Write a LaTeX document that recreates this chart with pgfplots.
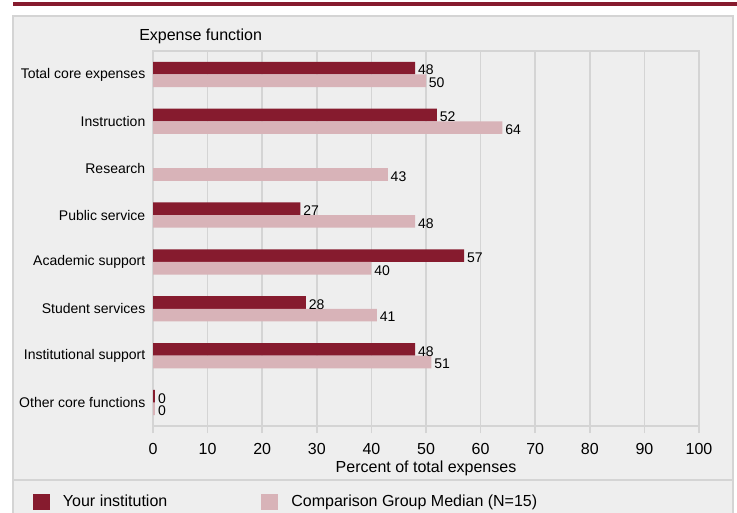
\documentclass[border=0pt]{standalone}
\usepackage{pgfplots}
\pgfplotsset{compat=1.18}
\usepackage{fontspec}
\setmainfont{Liberation Sans}
\definecolor{myred}{HTML}{861B2E}
\definecolor{mypink}{HTML}{D8B3B8}
\definecolor{panel}{HTML}{EEEEEE}
\definecolor{gridc}{HTML}{D4D4D4}
\begin{document}
\begin{tikzpicture}
\path[use as bounding box, fill=white] (0,0) rectangle (552.75pt,384pt);
\begin{scope}[x=0.75pt,y=-0.75pt,yshift=384pt]
\fill[panel] (13,16) rectangle (733,516);
\draw[gridc, line width=1.5pt] (13,516) -- (13,16) -- (733,16) -- (733,516);
\draw[gridc, line width=1.5pt] (13,480) -- (733,480);
\fill[myred] (13,2) rectangle (737,6);
\node[anchor=base west, font=\fontsize{12}{14}\selectfont, inner sep=0pt] at (139,40.5) {Expense function};
\end{scope}
\begin{axis}[
  at={(114.75pt,64.5pt)}, anchor=south west,
  scale only axis, width=409.5pt, height=281.25pt,
  xbar, bar width=9.5pt,
  xmin=0, xmax=100, ymin=-0.5, ymax=7.5,
  xtick={0,10,...,100},
  ytick={0,...,7},
  yticklabels={Other core functions, Institutional support, Student services, Academic support, Public service, Research, Instruction, Total core expenses},
  xmajorgrids, major grid style={draw=gridc, line width=1.1pt},
  axis line style={draw=none},
  axis background/.style={draw=gridc, line width=1.1pt},
  xtick pos=bottom, tick align=outside, major tick length=5.25pt,
  xtick style={draw=gridc, line width=1.1pt},
  ytick style={draw=none},
  /pgf/number format/assume math mode=true,
  tick label style={font=\fontsize{12}{14}\selectfont},
  xticklabel style={yshift=-4.5pt},
  yticklabel style={font=\fontsize{10.5}{12}\selectfont, xshift=3pt},
  xlabel={Percent of total expenses},
  xlabel style={font=\fontsize{12}{14}\selectfont, at={(axis description cs:0.5,-0.124)}, anchor=base},
  nodes near coords,
  nodes near coords style={font=\fontsize{10.5}{12}\selectfont, text=black, inner sep=2pt, yshift=-1.5pt},
  legend columns=2,
  legend cell align=left,
  legend style={at={(-0.2198,-0.2026)}, anchor=west, draw=none, fill=none, inner sep=0pt, outer sep=0pt,
    font=\fontsize{12}{14}\selectfont, nodes={inner sep=0pt},
    /tikz/every odd column/.append style={column sep=9.75pt},
    /tikz/every even column/.append style={column sep=70.5pt}},
]
\addplot[fill=myred, draw=none, bar shift=4.75pt,
  legend image code/.code={\fill[myred] (0pt,-6pt) rectangle (12.75pt,6pt);}]
  coordinates {(48,7) (52,6) (27,4) (57,3) (28,2) (48,1)};
\addplot[fill=mypink, draw=none, bar shift=-4.75pt,
  legend image code/.code={\fill[mypink] (0pt,-6pt) rectangle (12.75pt,6pt);}]
  coordinates {(50,7) (64,6) (43,5) (48,4) (40,3) (41,2) (51,1)};
\addplot[forget plot, fill=myred, draw=myred, line width=1.5pt, bar shift=4.75pt, xshift=1pt]
  coordinates {(0,0)};
\addplot[forget plot, fill=mypink, draw=mypink, line width=1.5pt, bar shift=-4.75pt, xshift=1pt]
  coordinates {(0,0)};
\legend{Your institution, Comparison Group Median (N=15)}
\end{axis}
\end{tikzpicture}
\end{document}
